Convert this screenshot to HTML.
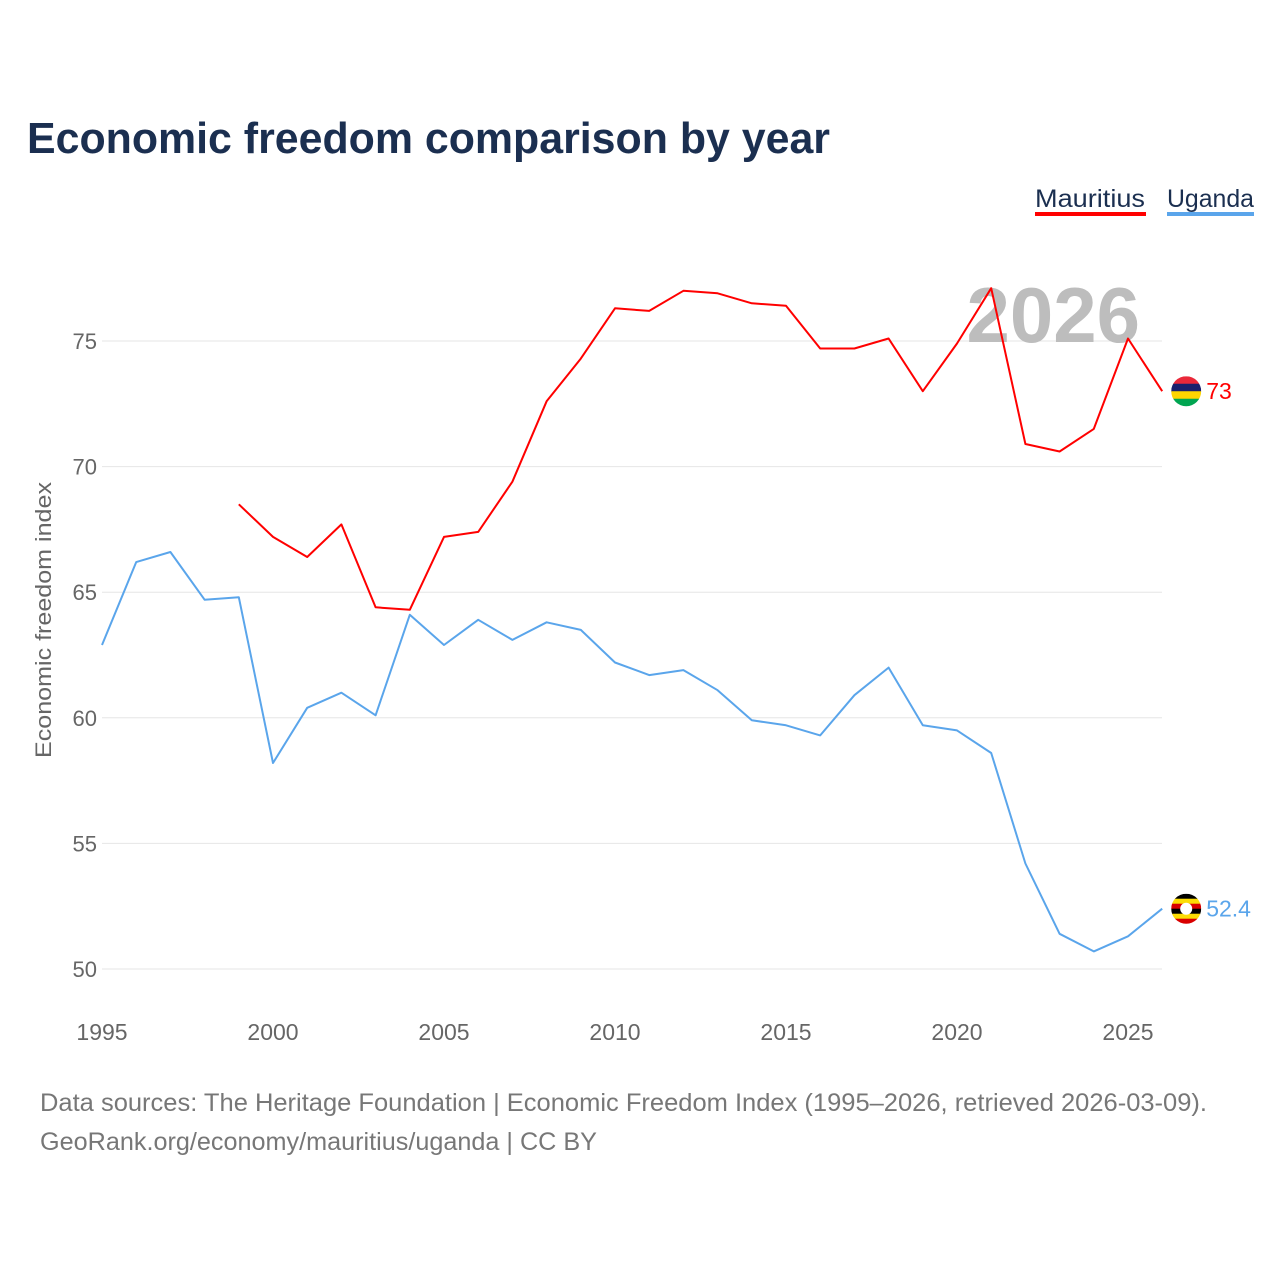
<!DOCTYPE html>
<html><head><meta charset="utf-8"><style>
body{margin:0;background:#fff;font-family:"Liberation Sans",sans-serif}
svg{display:block}
</style></head><body>
<svg id="chart" width="1280" height="1280" xmlns="http://www.w3.org/2000/svg">
<rect width="1280" height="1280" fill="#fff"/>
<text x="27" y="153" font-size="44" font-weight="bold" fill="#1b2f50" textLength="803" lengthAdjust="spacingAndGlyphs">Economic freedom comparison by year</text>
<g>
<text x="1035" y="207" font-size="25" fill="#1b2f50" textLength="110" lengthAdjust="spacingAndGlyphs">Mauritius</text>
<rect x="1035" y="212" width="111" height="4" fill="#ff0000"/>
<text x="1167" y="207" font-size="25" fill="#1b2f50" textLength="87" lengthAdjust="spacingAndGlyphs">Uganda</text>
<rect x="1167" y="212" width="87" height="4" fill="#5aa5eb"/>
</g>
<g id="grid"></g>
<text x="1140" y="342" text-anchor="end" font-size="78" font-weight="bold" fill="#bdbdbd">2026</text>
<text transform="translate(51,620) rotate(-90)" text-anchor="middle" font-size="22" fill="#666" textLength="276" lengthAdjust="spacingAndGlyphs">Economic freedom index</text>
<g id="series"></g>
<text x="40" y="1111" font-size="25" fill="#777" textLength="1167" lengthAdjust="spacingAndGlyphs">Data sources: The Heritage Foundation | Economic Freedom Index (1995–2026, retrieved 2026-03-09).</text>
<text x="40" y="1150" font-size="25" fill="#777" textLength="557" lengthAdjust="spacingAndGlyphs">GeoRank.org/economy/mauritius/uganda | CC BY</text>
</svg>
<script>
const yTicks=[50,55,60,65,70,75];
const xTicks=[1995,2000,2005,2010,2015,2020,2025];
const mauritiusYears=[1999,2000,2001,2002,2003,2004,2005,2006,2007,2008,2009,2010,2011,2012,2013,2014,2015,2016,2017,2018,2019,2020,2021,2022,2023,2024,2025,2026];
const mauritiusValues=[68.5,67.2,66.4,67.7,64.4,64.3,67.2,67.4,69.4,72.6,74.3,76.3,76.2,77.0,76.9,76.5,76.4,74.7,74.7,75.1,73.0,74.9,77.1,70.9,70.6,71.5,75.1,73.0];
const ugandaYears=[1995,1996,1997,1998,1999,2000,2001,2002,2003,2004,2005,2006,2007,2008,2009,2010,2011,2012,2013,2014,2015,2016,2017,2018,2019,2020,2021,2022,2023,2024,2025,2026];
const ugandaValues=[62.9,66.2,66.6,64.7,64.8,58.2,60.4,61.0,60.1,64.1,62.9,63.9,63.1,63.8,63.5,62.2,61.7,61.9,61.1,59.9,59.7,59.3,60.9,62.0,59.7,59.5,58.6,54.2,51.4,50.7,51.3,52.4];
const NS="http://www.w3.org/2000/svg";
const xs=y=>102+(y-1995)*34.2;
const ys=v=>969-(v-50)*25.12;
function mk(tag,attrs,parent){const e=document.createElementNS(NS,tag);for(const k in attrs)e.setAttribute(k,attrs[k]);parent.appendChild(e);return e;}
const grid=document.getElementById('grid');
yTicks.forEach(t=>{
  const l=mk('line',{x1:102,x2:1162,y1:ys(t),y2:ys(t),stroke:'#e6e6e6','stroke-width':1},grid);
  
  
  const tx=mk('text',{x:97,y:ys(t)+8,'text-anchor':'end','font-size':22,fill:'#666'},grid);
  tx.textContent=t;
  
  
});
xTicks.forEach(t=>{
  const tx=mk('text',{x:xs(t),y:1040,'text-anchor':'middle','font-size':23,fill:'#666'},grid);
  tx.textContent=t;
  
  
});
const g=document.getElementById('series');
function line(years,vals,color,name){
  const d=years.map((y,i)=>(i?'L':'M')+xs(y).toFixed(1)+','+ys(vals[i]).toFixed(1)).join('');
  const p=mk('path',{d:d,fill:'none',stroke:color,'stroke-width':2,'stroke-linejoin':'round'},g);
  
  
  const ly=years[years.length-1], lv=vals[vals.length-1];
  const cx=xs(ly)+24, cy=ys(lv);
  const t=mk('text',{x:cx+20,y:cy+8,'font-size':23,fill:color},g);
  t.textContent=lv;
  
  
  return {cx,cy};
}
function flag(cx,cy,colors,name,emblem){
  const id='clip-'+name;
  const cp=mk('clipPath',{id:id},g);mk('circle',{cx:cx,cy:cy,r:15},cp);
  const fg=mk('g',{'clip-path':'url(#'+id+')'},g);
  
  
  const h=30/colors.length;
  colors.forEach((c,i)=>mk('rect',{x:cx-15,y:cy-15+i*h,width:30,height:h+0.5,fill:c},fg));
  if(emblem)mk('circle',{cx:cx,cy:cy,r:6,fill:'#fff'},fg);
}
const m=line(mauritiusYears,mauritiusValues,'#ff0000','mauritius');
const u=line(ugandaYears,ugandaValues,'#5aa5eb','uganda');
flag(m.cx,m.cy,['#ea2839','#1a206d','#ffd500','#00a551'],'mauritius',false);
flag(u.cx,u.cy,['#000','#fcdc04','#d90000','#000','#fcdc04','#d90000'],'uganda',true);
</script>
</body></html>
